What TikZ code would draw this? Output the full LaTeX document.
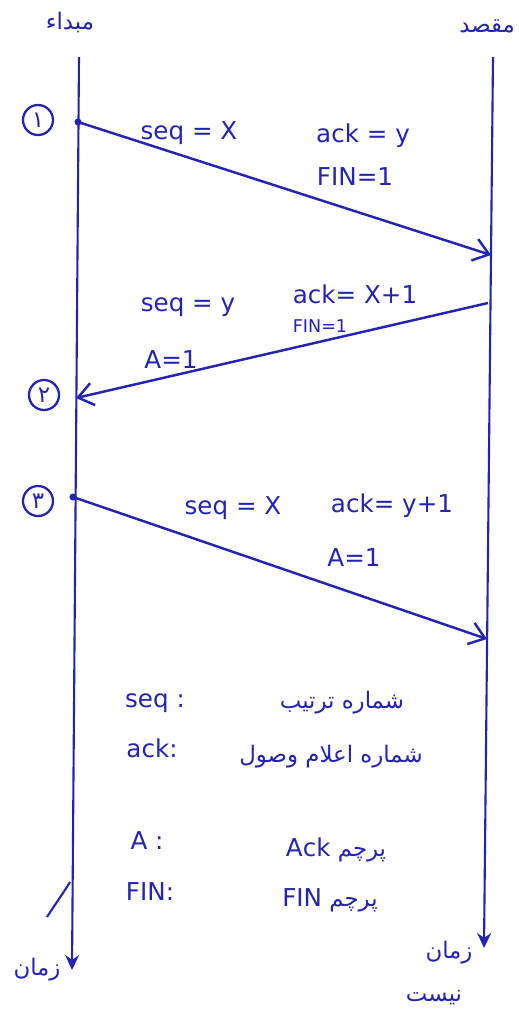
\documentclass[tikz,border=0pt]{standalone}
\usepackage{fontspec}
\setmainfont{DejaVu Sans}
\newfontfamily\fafont[Script=Arabic]{DejaVu Sans}
\TeXXeTstate=1
\usetikzlibrary{arrows.meta}
\definecolor{ink}{RGB}{35,35,180}

\begin{document}
\begin{tikzpicture}[
		x=0.02cm, y=-0.02cm,
		% Time lines and messages
		lifeline/.style={draw=ink, line width=1.2pt, -{Stealth[length=3mm, width=2.8mm]}},
		msg/.style={draw=ink, line width=1.4pt, -{Straight Barb[length=3mm, width=4.5mm]}},
		dot/.style={circle, fill=ink, inner sep=0pt, minimum size=4pt},
		% Labels
		lbl/.style={text=ink, font=\fontsize{14}{16}\selectfont, inner sep=1pt},
		small lbl/.style={text=ink, font=\fontsize{10}{12}\selectfont, inner sep=1pt},
		fa/.style={text=ink, font=\fontsize{13}{15}\selectfont\fafont, inner sep=1pt},
		step num/.style={circle, draw=ink, line width=1.3pt, text=ink, inner sep=0pt, minimum size=0.6cm, font=\fontsize{13}{15}\selectfont\fafont}
		]
	\useasboundingbox (0,0) rectangle (519,1012);

	% ==============================================================================
	% Time lines
	% ==============================================================================
	\coordinate (src-top) at (79,57);
	\coordinate (src-end) at (72,970);
	\coordinate (dst-top) at (493,57);
	\coordinate (dst-end) at (484,948);
	\draw[lifeline] (src-top) -- (src-end);
	\draw[lifeline] (dst-top) -- (dst-end);

	\node[fa] (src-name) at (70,22) {\beginR مبداء\endR};
	\node[fa, anchor=east] (dst-name) at (517,26) {\beginR مقصد\endR};
	\node[fa] (src-time) at (37,970) {\beginR زمان\endR};
	\node[fa] (dst-time) at (449,953) {\beginR زمان\endR};
	\node[fa] (dst-note) at (434,998) {\beginR نیست\endR};

	% ==============================================================================
	% Messages
	% ==============================================================================
	% 1: FIN from source
	\coordinate (m1-a) at (78,122);
	\coordinate (m1-b) at (491,255);
	\node[step num] (n1) at (38,120) {۱};
	\node[dot] at (m1-a) {};
	\draw[msg] (m1-a) -- (m1-b);
	\node[lbl] (m1-seq) at (189,133) {seq = X};
	\node[lbl] (m1-ack) at (363,136) {ack = y};
	\node[lbl] (m1-fin) at (355,177) {FIN=1};

	% 2: FIN + ACK from destination
	\coordinate (m2-a) at (488,303);
	\coordinate (m2-b) at (76,398);
	\node[step num] (n2) at (44,395) {۲};
	\draw[msg] (m2-a) -- (m2-b);
	\node[lbl] (m2-seq) at (188,307) {seq = y};
	\node[lbl] (m2-ack) at (355,294) {ack= X+1};
	\node[small lbl] (m2-fin) at (320,326) {FIN=1};
	\node[lbl] (m2-a1) at (171,360) {A=1};

	% 3: ACK from source
	\coordinate (m3-a) at (73,497);
	\coordinate (m3-b) at (487,639);
	\node[step num] (n3) at (38,501) {۳};
	\node[dot] at (m3-a) {};
	\draw[msg] (m3-a) -- (m3-b);
	\node[lbl] (m3-seq) at (233,508) {seq = X};
	\node[lbl] (m3-ack) at (392,506) {ack= y+1};
	\node[lbl] (m3-a1) at (354,558) {A=1};

	% ==============================================================================
	% Legend
	% ==============================================================================
	\node[lbl] (k-seq) at (155,703) {seq :};
	\node[fa] (v-seq) at (342,703) {\beginR شماره ترتیب\endR};
	\node[lbl] (k-ack) at (152,748) {ack:};
	\node[fa] (v-ack) at (331,757) {\beginR شماره اعلام وصول\endR};
	\node[lbl] (k-a) at (147,841) {A :};
	\node[fa] (v-a) at (336,850) {\beginR پرچم \beginL\fontsize{14}{16}\selectfont Ack\endL\endR};
	\node[lbl] (k-fin) at (150,892) {FIN:};
	\node[fa] (v-fin) at (330,900) {\beginR پرچم \beginL\fontsize{14}{16}\selectfont FIN\endL\endR};

	% stray stroke across the source line
	\draw[ink, line width=1.2pt] (47,917) .. controls (56,903) and (64,892) .. (70,882);
\end{tikzpicture}
\end{document}
